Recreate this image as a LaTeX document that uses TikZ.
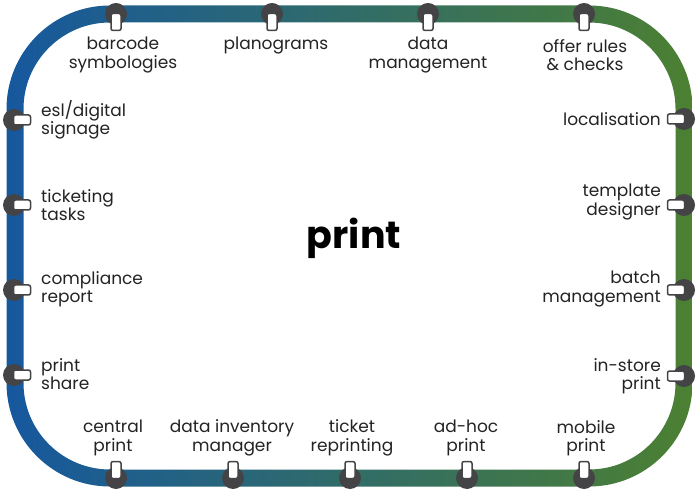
\documentclass[tikz,border=0pt]{standalone}
\usepackage{fontspec}
\setmainfont{Poppins}
\usetikzlibrary{positioning}
\definecolor{lineblue}{RGB}{22,88,158}
\definecolor{linegreen}{RGB}{76,128,50}
\definecolor{stopgray}{RGB}{68,68,70}
\definecolor{labelgray}{RGB}{35,35,35}

\begin{document}
\begin{tikzpicture}[x=1pt, y=1pt,
  stop/.style={circle, fill=stopgray, minimum size=22pt, inner sep=0pt},
  slotv/.style={draw=stopgray, line width=1.5pt, fill=white, rounded corners=2pt,
    minimum width=10pt, minimum height=17pt, inner sep=0pt},
  sloth/.style={slotv, minimum width=17pt, minimum height=10pt},
  lbl/.style={font=\fontsize{17}{18.5}\selectfont, text=labelgray, align=center, inner sep=0pt}]
\useasboundingbox (0,0) rectangle (700,495);

% the track
\shade[left color=lineblue, right color=linegreen, even odd rule]
  [rounded corners=103.5pt] (6.5,8.5) rectangle (692.5,489.5)
  [rounded corners=86.5pt] (23.5,25.5) rectangle (675.5,472.5);

% stops on the top and bottom
\foreach \name/\x in {t1/116, t2/272, t3/428, t4/584} {
  \node[stop] (\name) at (\x,481) {};
  \node[slotv] (\name s) at (\x,473) {};
}
\foreach \name/\x in {b1/116, b2/233, b3/350, b4/467, b5/584} {
  \node[stop] (\name) at (\x,17) {};
  \node[slotv] (\name s) at (\x,25) {};
}
% stops on the sides
\foreach \name/\y in {l1/375, l2/290, l3/205, l4/120} {
  \node[stop] (\name) at (14,\y) {};
  \node[sloth] (\name s) at (22,\y) {};
}
\foreach \name/\y in {r1/376, r2/290, r3/205, r4/119} {
  \node[stop] (\name) at (684,\y) {};
  \node[sloth] (\name s) at (676,\y) {};
}

% labels
\node[lbl] (barcode) at (123,440) {barcode\\symbologies};
\node[lbl] (planograms) at (276,449) {planograms};
\node[lbl] (datamgmt) at (428,440) {data\\management};
\node[lbl] (offer) at (585,440) {offer rules\\\& checks};

\node[lbl, anchor=west, align=left] (esl) at (41,375) {esl/digital\\signage};
\node[lbl, anchor=west, align=left] (ticketing) at (41,290) {ticketing\\tasks};
\node[lbl, anchor=west, align=left] (compliance) at (41,206) {compliance\\report};
\node[lbl, anchor=west, align=left] (share) at (41,121) {print\\share};

\node[lbl, anchor=east, align=right] (localisation) at (661,376) {localisation};
\node[lbl, anchor=east, align=right] (template) at (661,293) {template\\designer};
\node[lbl, anchor=east, align=right] (batch) at (661,206) {batch\\management};
\node[lbl, anchor=east, align=right] (instore) at (661,119) {in-store\\print};

\node[lbl] (central) at (113,57) {central\\print};
\node[lbl] (inventory) at (232,57) {data inventory\\manager};
\node[lbl] (reprint) at (352,57) {ticket\\reprinting};
\node[lbl] (adhoc) at (466,57) {ad-hoc\\print};
\node[lbl] (mobile) at (586,57) {mobile\\print};

\node[font=\fontsize{38}{38}\selectfont\bfseries, text=black] (title) at (354,257) {print};
\end{tikzpicture}
\end{document}
